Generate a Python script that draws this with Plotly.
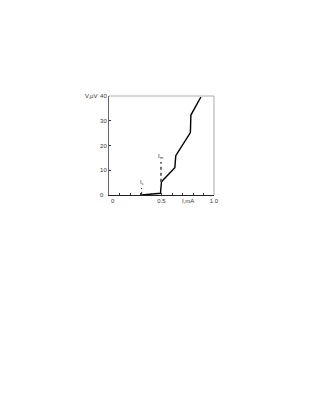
import plotly.graph_objects as go

# data
curve_i = [0.31, 0.49, 0.50, 0.627, 0.636, 0.775, 0.78, 0.875]
curve_v = [0.0, 0.7, 5.4, 11.0, 15.9, 25.2, 32.3, 39.6]
ic_x = [0.31, 0.31]
ic_v = [0.0, 2.8]
im_x = [0.495, 0.495]
im_v = [5.4, 13.3]
y_ticks = [10, 20, 30, 40]
x_ticks = [0.5, 1.0]
x_ticklabels = ["0.5", "1.0"]

fig = go.Figure()
fig.add_trace(go.Scatter(x=curve_i, y=curve_v, mode="lines",
                         line=dict(color="black", width=1.4), showlegend=False))
fig.add_trace(go.Scatter(x=ic_x, y=ic_v, mode="lines",
                         line=dict(color="#444", width=1.2, dash="dot"), showlegend=False))
fig.add_trace(go.Scatter(x=im_x, y=im_v, mode="lines",
                         line=dict(color="#444", width=1.5, dash="dot"), showlegend=False))

font = dict(family="Liberation Sans, Arial", size=6, color="#333")
sfont = dict(family="Liberation Sans, Arial", size=6, color="#333")
fig.update_layout(
    width=321, height=415,
    margin=dict(l=101, r=115, t=88, b=228),
    paper_bgcolor="white", plot_bgcolor="white",
    xaxis=dict(range=[0, 1.0], tickvals=x_ticks, ticktext=x_ticklabels,
               ticks="inside", ticklen=2, tickcolor="#333", tickfont=font,
               minor=dict(dtick=0.1, ticks="inside", ticklen=2, tickcolor="#333"),
               showgrid=False, zeroline=False, showline=True, linecolor="#222",
               linewidth=1, mirror=False),
    yaxis=dict(range=[0, 40], tickvals=y_ticks, ticks="inside", ticklen=2,
               tickcolor="#333", tickfont=font, showgrid=False, zeroline=False,
               showline=True, linecolor="#666", linewidth=1),
    shapes=[
        dict(type="line", xref="paper", yref="paper", x0=0, x1=1, y0=1, y1=1,
             line=dict(color="#aaa", width=1)),
        dict(type="line", xref="paper", yref="paper", x0=1, x1=1, y0=0, y1=1,
             line=dict(color="#aaa", width=1)),
    ],
    annotations=[
        dict(x=0, y=40, xref="x", yref="y", text="V,μV", showarrow=False,
             xanchor="right", yanchor="middle", xshift=-9, font=font),
        dict(x=0, y=0, xref="x", yref="y", text="0", showarrow=False,
             xanchor="right", yanchor="middle", xshift=-3, font=font),
        dict(x=0, y=0, xref="x", yref="y", text="0", showarrow=False,
             xanchor="left", yanchor="top", xshift=0, yshift=-1, font=font),
        dict(x=0.75, y=0, xref="x", yref="y", text="I,mA", showarrow=False,
             xanchor="center", yanchor="top", yshift=-1, font=font),
        dict(x=0.31, y=3.0, xref="x", yref="y", text="I<sub>c</sub>", showarrow=False,
             xanchor="center", yanchor="bottom", font=sfont),
        dict(x=0.495, y=13.5, xref="x", yref="y", text="I<sub>m</sub>", showarrow=False,
             xanchor="center", yanchor="bottom", font=sfont),
    ],
)
fig.write_html("out.html")
